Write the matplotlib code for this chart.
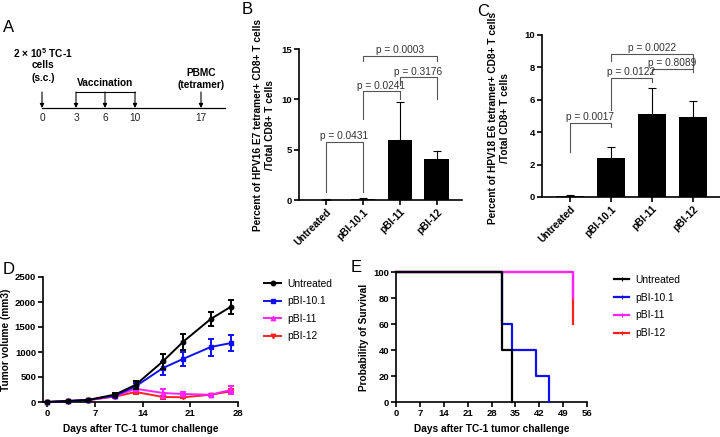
import matplotlib
matplotlib.use("Agg")
import matplotlib.pyplot as plt
from matplotlib.lines import Line2D
import numpy as np

plt.rcParams['font.family'] = ['Liberation Sans', 'DejaVu Sans']
plt.rcParams['mathtext.fontset'] = 'custom'
plt.rcParams['mathtext.rm'] = 'Liberation Sans'
plt.rcParams['mathtext.bf'] = 'Liberation Sans:bold'

W, H = 720, 437

# ---------------- data ----------------
# Panel A timeline
timeline_days = ['0', '3', '6', '10', '17']
vaccination_days = ['3', '6', '10']

# Panels B / C
groups = ['Untreated', 'pBI-10.1', 'pBI-11', 'pBI-12']
e7_mean = [0.03, 0.10, 6.0, 4.1]
e7_err = [0.03, 0.05, 3.7, 0.8]
e6_mean = [0.08, 2.4, 5.15, 4.95]
e6_err = [0.03, 0.7, 1.55, 1.0]

# significance brackets: (group i, group j, bar height, left leg end, right leg end, label)
b_brackets = [
    (0, 1, 5.8, 0.8, 0.8, 'p = 0.0431'),
    (1, 2, 10.8, 8.0, 10.0, 'p = 0.0241'),
    (2, 3, 12.2, 11.4, 10.0, 'p = 0.3176'),
    (1, 3, 14.3, 13.8, 13.8, 'p = 0.0003'),
]
c_brackets = [
    (0, 1, 4.57, 2.78, 4.32, 'p = 0.0017'),
    (1, 2, 7.35, 5.37, 7.10, 'p = 0.0122'),
    (2, 3, 7.90, 7.65, 7.70, 'p = 0.8089'),
    (1, 3, 8.83, 8.40, 7.96, 'p = 0.0022'),
]

# Panel D tumour growth
days = [0, 3, 6, 10, 13, 17, 20, 24, 27]
vol_untreated = [0, 20, 40, 150, 345, 815, 1210, 1660, 1910]
err_untreated = [0, 10, 10, 30, 75, 145, 160, 140, 140]
vol_p101 = [0, 20, 40, 130, 315, 680, 865, 1100, 1180]
err_p101 = [0, 10, 10, 25, 60, 130, 140, 170, 165]
vol_p11 = [0, 15, 40, 120, 265, 180, 160, 145, 245]
err_p11 = [0, 8, 10, 20, 40, 90, 45, 20, 80]
vol_p12 = [0, 15, 35, 110, 200, 100, 95, 145, 215]
err_p12 = [0, 8, 10, 20, 30, 30, 20, 15, 40]

# Panel E survival
surv_t_untreated = [0, 31, 34]
surv_untreated = [100, 40, 0]
surv_t_p101 = [0, 31, 34, 41, 45]
surv_p101 = [100, 60, 40, 20, 0]
surv_t_p11 = [0, 52]
surv_p11 = [100, 80]
surv_t_p12 = [0, 52]
surv_p12 = [100, 60]

# ---------------- style ----------------
BLUE = '#1010ee'
MAG = '#ff22ff'
RED = '#ff2020'
TICKFS = 6.8
LABFS = 7.3
SPINE_LW = 1.2

fig = plt.figure(figsize=(W / 100, H / 100), dpi=100)


def px_axes(l, t, r, b):
    return fig.add_axes([l / W, 1 - b / H, (r - l) / W, (b - t) / H])


def style_axes(ax):
    for s in ['top', 'right']:
        ax.spines[s].set_visible(False)
    for s in ['left', 'bottom']:
        ax.spines[s].set_linewidth(SPINE_LW)
    ax.tick_params(width=SPINE_LW, length=3.5, labelsize=TICKFS, pad=1.5)
    for lab in ax.get_xticklabels() + ax.get_yticklabels():
        lab.set_fontweight('bold')


def ftext(x, y, s, **kw):
    fig.text(x / W, 1 - y / H, s, **kw)


# panel letters
ftext(3, 28, 'A', fontsize=12, va='center', ha='left')
ftext(242, 10, 'B', fontsize=12, va='center', ha='left')
ftext(477, 12, 'C', fontsize=12, va='center', ha='left')
ftext(3, 269, 'D', fontsize=12, va='center', ha='left')
ftext(351, 268, 'E', fontsize=12, va='center', ha='left')

# ---------------- Panel A ----------------
axA = px_axes(0, 0, 240, 160)
axA.set_xlim(0, 240)
axA.set_ylim(160, 0)
axA.axis('off')
tl_x = [42, 76, 105, 135, 201]   # schematic positions
line_y, top_y = 108, 92
axA.plot([42, 225], [line_y, line_y], color='black', lw=0.9)
arrow_kw = dict(arrowstyle='-|>', color='black', lw=0.8, mutation_scale=6,
                shrinkA=0, shrinkB=0)
for x, lab in zip(tl_x, timeline_days):
    axA.annotate('', xy=(x, line_y), xytext=(x, top_y), arrowprops=arrow_kw)
    axA.text(x, 118, lab, ha='center', va='center', fontsize=LABFS, color='#222222')
vx = [x for x, lab in zip(tl_x, timeline_days) if lab in vaccination_days]
axA.plot([min(vx), max(vx)], [top_y, top_y], color='black', lw=0.8)
axA.text(43, 53, r'2 × 10$^{\mathbf{5}}$ TC-1', ha='center', va='center', fontsize=LABFS, fontweight='bold')
axA.text(43, 65, 'cells', ha='center', va='center', fontsize=LABFS, fontweight='bold')
axA.text(43, 78, '(s.c.)', ha='center', va='center', fontsize=LABFS, fontweight='bold')
axA.text(105, 83, 'Vaccination', ha='center', va='center', fontsize=LABFS, fontweight='bold')
axA.text(201, 73, 'PBMC', ha='center', va='center', fontsize=LABFS, fontweight='bold')
axA.text(201, 85, '(tetramer)', ha='center', va='center', fontsize=LABFS, fontweight='bold')


# ---------------- Panels B / C ----------------
def bar_panel(ax, means, errs, brackets, ymax, yticks):
    x = np.arange(len(groups))
    ax.bar(x, means, width=0.67, color='black', zorder=2)
    ax.errorbar(x, means, yerr=[np.zeros(len(errs)), errs], fmt='none', ecolor='black',
                elinewidth=0.8, capsize=3.2, capthick=0.8, zorder=3)
    ax.set_ylim(0, ymax)
    ax.set_yticks(yticks)
    ax.set_xticks(x)
    ax.set_xticklabels(groups, rotation=45, ha='right', rotation_mode='anchor',
                       fontsize=LABFS, fontweight='bold')
    for i, j, h, li, lj, lab in brackets:
        ax.plot([i, i, j, j], [li, h, h, lj], color='#555555', lw=0.8, clip_on=False, zorder=4)
        ax.text((i + j) / 2, h + ymax * 0.004, lab, ha='center', va='bottom',
                fontsize=LABFS, color='#333333', clip_on=False, zorder=5)
    style_axes(ax)
    for lab in ax.get_xticklabels():
        lab.set_fontsize(LABFS)


axB = px_axes(299, 49, 462, 200)
bar_panel(axB, e7_mean, e7_err, b_brackets, 15, [0, 5, 10, 15])
axB.set_xlim(-0.73, 3.68)
ftext(264, 125, 'Percent of HPV16 E7 tetramer+ CD8+ T cells\n/Total CD8+ T cells',
      rotation=90, ha='center', va='center', fontsize=LABFS, fontweight='bold',
      multialignment='center', linespacing=1.25)

axC = px_axes(542, 35, 720, 197)
bar_panel(axC, e6_mean, e6_err, c_brackets, 10, [0, 2, 4, 6, 8, 10])
axC.set_xlim(-0.68, 3.66)
ftext(499, 118, 'Percent of HPV18 E6 tetramer+ CD8+ T cells\n/Total CD8+ T cells',
      rotation=90, ha='center', va='center', fontsize=LABFS, fontweight='bold',
      multialignment='center', linespacing=1.25)

# ---------------- Panel D ----------------
axD = px_axes(43, 277, 238, 402)
series_d = [
    ('pBI-12', vol_p12, err_p12, RED, 'v', 1),
    ('pBI-11', vol_p11, err_p11, MAG, '^', 2),
    ('pBI-10.1', vol_p101, err_p101, BLUE, 's', 3),
    ('Untreated', vol_untreated, err_untreated, 'black', 'o', 4),
]
for name, v, e, c, m, z in series_d:
    axD.errorbar(days, v, yerr=e, color=c, marker=m, ms=3.2, lw=1.4, elinewidth=1.4,
                 capsize=2.3, capthick=1.4, zorder=z, clip_on=False)
axD.set_xlim(-0.6, 28)
axD.set_ylim(0, 2500)
axD.set_xticks([0, 7, 14, 21, 28])
axD.set_yticks([0, 500, 1000, 1500, 2000, 2500])
style_axes(axD)
axD.set_xlabel('Days after TC-1 tumor challenge', fontsize=LABFS, fontweight='bold', labelpad=4)
axD.set_ylabel('Tumor volume (mm3)', fontsize=LABFS, fontweight='bold', labelpad=3)

handles_d = [Line2D([], [], color=c, marker=m, ms=3.2, lw=1.4) for _, _, _, c, m, _ in series_d][::-1]
labels_d = [s[0] for s in series_d][::-1]
fig.legend(handles_d, labels_d, loc='upper left', bbox_to_anchor=(264 / W, 1 - 279 / H),
           frameon=False, fontsize=7.4, handlelength=1.7, handletextpad=0.6,
           labelspacing=0.72, borderpad=0, borderaxespad=0)

# ---------------- Panel E ----------------
axE = px_axes(396, 272, 587, 402)
series_e = [
    ('pBI-12', surv_t_p12, surv_p12, RED, 1),
    ('pBI-11', surv_t_p11, surv_p11, MAG, 2),
    ('pBI-10.1', surv_t_p101, surv_p101, BLUE, 3),
    ('Untreated', surv_t_untreated, surv_untreated, 'black', 4),
]
for name, t, s, c, z in series_e:
    axE.step(t, s, where='post', color=c, lw=1.6, zorder=z, clip_on=False)
axE.set_xlim(0, 56)
axE.set_ylim(0, 100)
axE.set_xticks(np.arange(0, 57, 7))
axE.set_yticks([0, 20, 40, 60, 80, 100])
style_axes(axE)
axE.set_xlabel('Days after TC-1 tumor challenge', fontsize=LABFS, fontweight='bold', labelpad=4)
axE.set_ylabel('Probability of Survival', fontsize=LABFS, fontweight='bold', labelpad=3)

handles_e = [Line2D([], [], color=c, marker='|', ms=2.5, mew=0.8, lw=1.6) for _, _, _, c, _ in series_e][::-1]
labels_e = [s[0] for s in series_e][::-1]
fig.legend(handles_e, labels_e, loc='upper left', bbox_to_anchor=(614 / W, 1 - 275 / H),
           frameon=False, fontsize=7.4, handlelength=1.5, handletextpad=0.6,
           labelspacing=0.75, borderpad=0, borderaxespad=0)

fig.savefig('out.png', dpi=100)
